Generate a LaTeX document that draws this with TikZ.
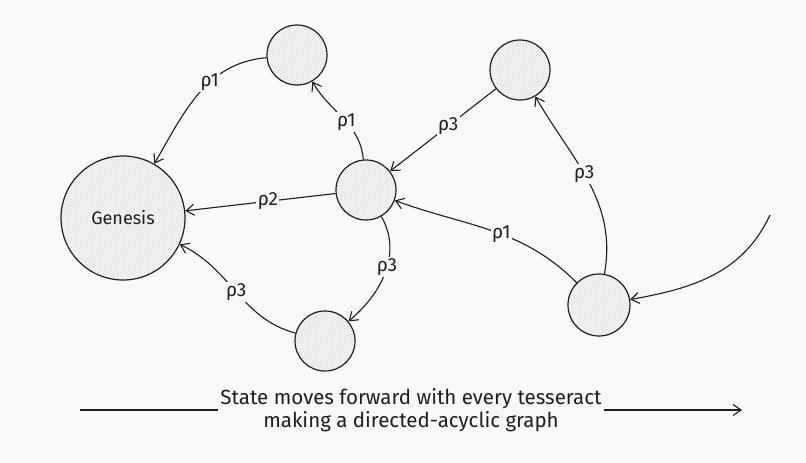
\documentclass[tikz,border=0pt]{standalone}
\usepackage{fontspec}
\setmainfont{Fira Sans}
\usetikzlibrary{arrows.meta,patterns}
\definecolor{bg}{HTML}{F8F9FA}
\definecolor{ink}{HTML}{1E1E1E}
\begin{document}
\begin{tikzpicture}[x=1pt,y=-1pt,
  st/.style={circle,draw=ink,line width=1.2pt,fill=bg,pattern color=gray!30,preaction={fill=bg},pattern=north east lines,inner sep=0pt},
  e/.style={draw=ink,line width=1.1pt,-{Straight Barb[length=8pt,width=11pt]}},
  lb/.style={fill=bg,inner sep=1.5pt,font=\fontsize{19}{22}\selectfont,text=ink}]
\fill[bg] (0,0) rectangle (806,463);
\useasboundingbox (0,0) rectangle (806,463);
\node[st,minimum size=124pt] (g) at (123,218) {};
\node[font=\fontsize{18}{21}\selectfont,text=ink] at (123,218) {Genesis};
\node[st,minimum size=60pt] (t) at (297,55) {};
\node[st,minimum size=60pt] (c) at (366,190) {};
\node[st,minimum size=60pt] (b) at (325,341) {};
\node[st,minimum size=60pt] (tr) at (520,70) {};
\node[st,minimum size=62pt] (br) at (599,305) {};
\coordinate (free) at (770,215);
\draw[e] (t) to[out=185,in=60] node[lb,pos=0.4]{ρ1} (g);
\draw[e] (c) to[out=95,in=-60] node[lb,pos=0.45]{ρ1} (t);
\draw[e] (c) to node[lb,pos=0.45]{ρ2} (g);
\draw[e] (c) to[out=-60,in=40] node[lb,pos=0.45]{ρ3} (b);
\draw[e] (b) to[out=165,in=-25] node[lb,pos=0.5]{ρ3} (g);
\draw[e] (tr) to node[lb,pos=0.45]{ρ3} (c);
\draw[e] (br) to[out=135,in=-20] node[lb,pos=0.45]{ρ1} (c);
\draw[e] (br) to[out=80,in=-60] node[lb,pos=0.55]{ρ3} (tr);
\draw[e] (free) to[out=-115,in=10] (br);
\node[text=ink,font=\fontsize{20.5}{23}\selectfont,align=center,inner sep=2pt] (txt) at (411,410) {State moves forward with every tesseract\\making a directed-acyclic graph};
\coordinate (l0) at (80,410);
\coordinate (r1) at (742,410);
\draw[ink,line width=1.1pt] (l0) -- (txt.west |- l0);
\draw[e] (txt.east |- r1) -- (r1);
\end{tikzpicture}
\end{document}
